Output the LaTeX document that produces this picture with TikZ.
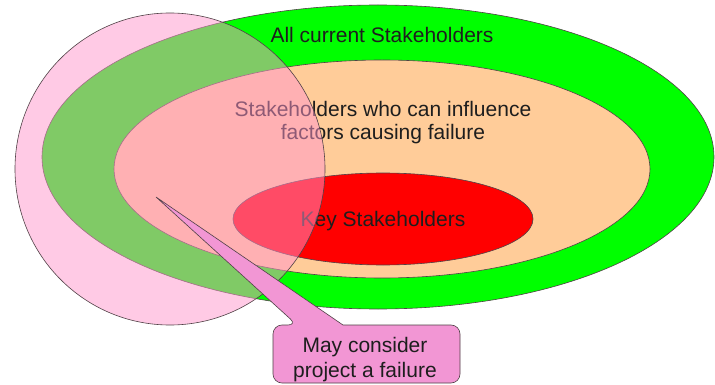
\documentclass[tikz,border=0pt]{standalone}
\usepackage{fontspec}
\setmainfont{Liberation Sans}
\definecolor{stgreen}{RGB}{0,255,0}
\definecolor{stpeach}{RGB}{255,204,153}
\definecolor{stred}{RGB}{255,0,0}
\definecolor{stpink}{RGB}{255,150,205}
\definecolor{stcall}{RGB}{242,150,212}
\definecolor{stline}{RGB}{80,65,70}
\definecolor{sttext}{RGB}{30,30,30}
\begin{document}
\begin{tikzpicture}[x=1pt,y=-1pt,
  zone/.style={draw=stline,line width=0.6pt},
  lbl/.style={text=sttext,font=\fontsize{21}{23}\selectfont,align=center,inner sep=0pt},
  callout/.style={fill=stcall,draw=stline,line width=0.6pt}]
\useasboundingbox (0,0) rectangle (715,385);
\fill[white] (0,0) rectangle (715,385);
% nested stakeholder sets
\draw[zone,fill=stgreen] (378,157) ellipse [x radius=336, y radius=152];
\draw[zone,fill=stpeach] (382,169) ellipse [x radius=268, y radius=109];
\draw[zone,fill=stred] (383,219) ellipse [x radius=150, y radius=46];
\node[lbl] (all) at (382,35) {All current Stakeholders};
\node[lbl] (infl) at (383,123) {Stakeholders who can influence\\factors causing failure};
\node[lbl] (key) at (383,221) {Key Stakeholders};
% translucent circle
\draw[zone,fill=stpink,fill opacity=0.5] (170,169) ellipse [x radius=155, y radius=156];
% callout
\coordinate (tip) at (156,197);
\draw[callout] (273,354) [rounded corners=9] -- (273,325) -- (297,325) [sharp corners] -- (tip) -- (343,325) [rounded corners=9] -- (460,325) -- (460,383) -- (273,383) -- cycle;
\node[lbl,font=\fontsize{21}{25}\selectfont] (may) at (365,360) {May consider\\project a failure};
\end{tikzpicture}
\end{document}
